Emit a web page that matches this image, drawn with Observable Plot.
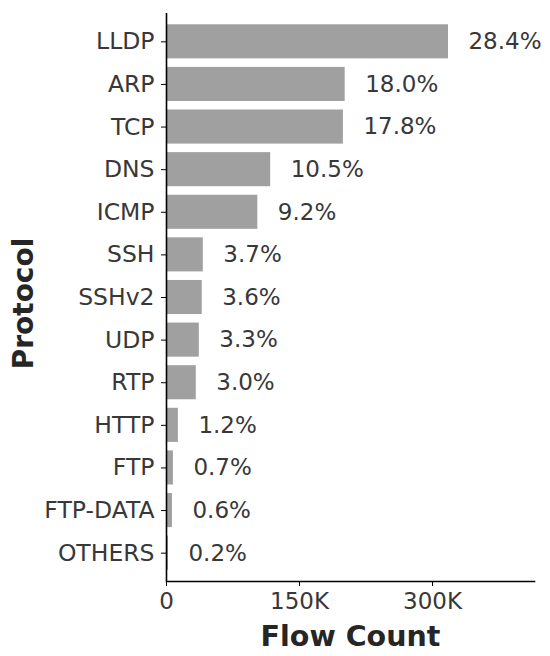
<!DOCTYPE html>
<html>
<head>
<meta charset="utf-8">
<script src="https://cdn.jsdelivr.net/npm/d3@7"></script>
<script src="https://cdn.jsdelivr.net/npm/@observablehq/plot@0.6"></script>
<style>
  html, body { margin: 0; padding: 0; background: #fff; }
  #chart svg { display: block; font-family: "DejaVu Sans", sans-serif; }
</style>
</head>
<body>
<div id="chart"></div>
<script>
const protocols = ["LLDP", "ARP", "TCP", "DNS", "ICMP", "SSH", "SSHv2", "UDP", "RTP", "HTTP", "FTP", "FTP-DATA", "OTHERS"];
const flowCounts = [318000, 201500, 199500, 117500, 103000, 41500, 40300, 37000, 33600, 13400, 7800, 6700, 2200];
const percentLabels = ["28.4%", "18.0%", "17.8%", "10.5%", "9.2%", "3.7%", "3.6%", "3.3%", "3.0%", "1.2%", "0.7%", "0.6%", "0.2%"];
const xTicks = [0, 150000, 300000];

const data = protocols.map((p, i) => ({protocol: p, count: flowCounts[i], label: percentLabels[i]}));

const textColor = "#383838";
const fmt = d => d === 0 ? "0" : (d / 1000) + "K";

const chart = Plot.plot({
  width: 550,
  height: 656,
  marginLeft: 166,
  marginRight: 16,
  marginTop: 13,
  marginBottom: 75,
  style: {fontFamily: "DejaVu Sans, sans-serif", background: "#fff"},
  x: {domain: [0, 415000]},
  y: {domain: protocols, paddingInner: 0.2, paddingOuter: 0.265, round: false},
  marks: [
    Plot.barX(data, {x: "count", y: "protocol", fill: "#a0a0a0"}),
    Plot.text(data, {x: "count", y: "protocol", text: "label", dx: 20, textAnchor: "start", fontSize: 23, fill: textColor}),
    Plot.ruleX([0], {stroke: "#000", strokeWidth: 1.6}),
    Plot.frame({anchor: "bottom", stroke: "#000", strokeWidth: 1.6}),
    Plot.axisY({tickSize: 5, tickPadding: 7, fontSize: 23.5, color: textColor, stroke: "#000", label: null}),
    Plot.axisX({ticks: xTicks, tickFormat: fmt, tickSize: 5, tickPadding: 6, fontSize: 23, color: textColor, stroke: "#000", label: null}),
    Plot.text(["Flow Count"], {frameAnchor: "bottom", dy: 64, text: d => d, fontSize: 28.5, fontWeight: "bold", fill: "#262626", lineAnchor: "bottom"}),
    Plot.text(["Protocol"], {frameAnchor: "left", dx: -134, dy: 6, rotate: -90, textAnchor: "middle", text: d => d, fontSize: 28, fontWeight: "bold", fill: "#262626", lineAnchor: "bottom"})
  ]
});
document.getElementById("chart").appendChild(chart);
</script>
</body>
</html>
